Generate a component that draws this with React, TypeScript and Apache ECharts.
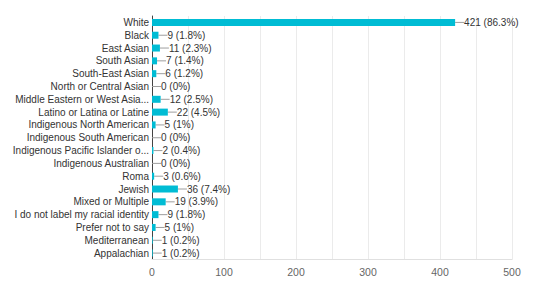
import React, { useEffect, useRef } from "react";
import * as echarts from "echarts";

const categories = [
  "White",
  "Black",
  "East Asian",
  "South Asian",
  "South-East Asian",
  "North or Central Asian",
  "Middle Eastern or West Asia...",
  "Latino or Latina or Latine",
  "Indigenous North American",
  "Indigenous South American",
  "Indigenous Pacific Islander o...",
  "Indigenous Australian",
  "Roma",
  "Jewish",
  "Mixed or Multiple",
  "I do not label my racial identity",
  "Prefer not to say",
  "Mediterranean",
  "Appalachian",
];
const counts = [421, 9, 11, 7, 6, 0, 12, 22, 5, 0, 2, 0, 3, 36, 19, 9, 5, 1, 1];
const totalResponses = 488;
const tickValues = [0, 100, 200, 300, 400, 500];

const fmtPct = (v: number) => {
  const p = ((v / totalResponses) * 100).toFixed(1);
  return (p.endsWith(".0") ? p.slice(0, -2) : p) + "%";
};

const FONT = "'Liberation Sans', Arial, sans-serif";

export default function App() {
  const ref = useRef<HTMLDivElement>(null);
  useEffect(() => {
    if (!ref.current) return;
    const chart = echarts.init(ref.current, undefined, { renderer: "svg" });
    chart.setOption({
      animation: false,
      textStyle: { fontFamily: FONT },
      grid: {
        left: 152,
        right: 28,
        top: 16,
        bottom: 28.5,
        containLabel: false,
        outerBoundsMode: "none",
      },
      xAxis: {
        type: "value",
        min: 0,
        max: 500,
        interval: 50,
        axisLine: { show: true, lineStyle: { color: "#e0e0e0" } },
        axisTick: { show: false },
        splitLine: { show: true, lineStyle: { color: "#ebebeb", width: 1 } },
        axisLabel: {
          color: "#666",
          fontSize: 10.5,
          fontFamily: FONT,
          margin: 7,
          formatter: (v: number) => (tickValues.includes(v) ? String(v) : ""),
        },
      },
      yAxis: {
        type: "category",
        data: categories,
        inverse: true,
        axisLine: { show: true, lineStyle: { color: "#444", width: 1 } },
        axisTick: { show: false },
        axisLabel: {
          color: "#333",
          fontSize: 10,
          fontFamily: FONT,
          margin: 3,
          interval: 0,
        },
      },
      series: [
        {
          type: "bar",
          data: counts,
          barWidth: 7,
          itemStyle: { color: "#00bcd4" },
          label: {
            show: true,
            position: "right",
            distance: 1,
            color: "#333",
            fontSize: 10,
            fontFamily: FONT,
            formatter: (p: any) => `${p.value} (${fmtPct(p.value)})`,
          },
          labelLayout: { dx: 8 },
          labelLine: { show: true, lineStyle: { color: "#9e9e9e", width: 1 } },
        },
      ],
    });
    return () => chart.dispose();
  }, []);
  return <div ref={ref} style={{ width: 540, height: 288, position: "absolute", left: 0, top: 0 }} />;
}
